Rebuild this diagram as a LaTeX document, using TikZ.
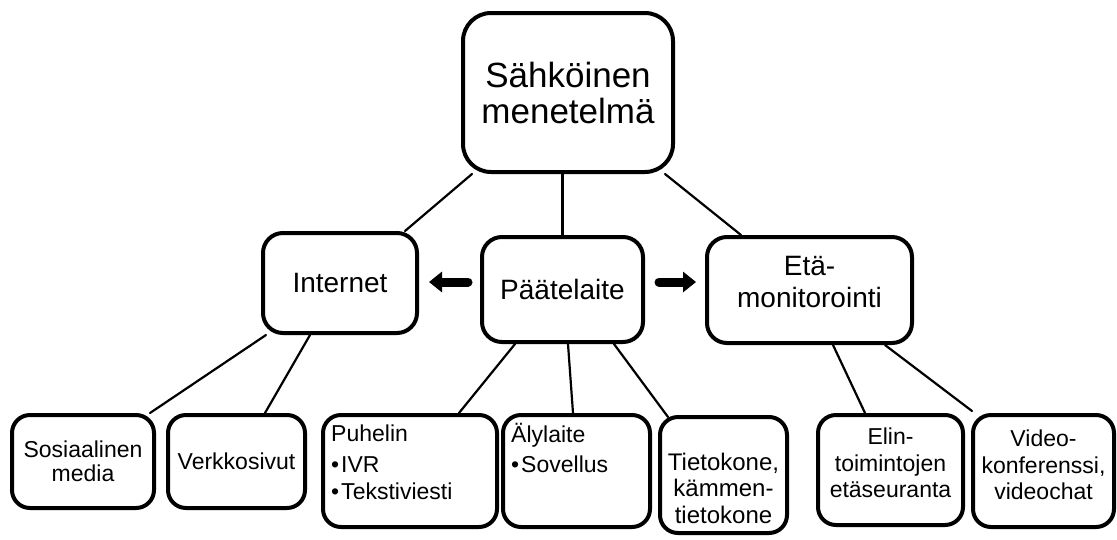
\documentclass[tikz,border=0pt]{standalone}
\usepackage{fontspec}
\setmainfont{Liberation Sans}
\usetikzlibrary{arrows.meta}
\tikzset{
  box/.style={draw=black, line width=4pt, fill=white, rounded corners=18pt, inner sep=0pt, align=center},
  topbox/.style={box, rounded corners=28pt, font=\fontsize{35}{36}\selectfont},
  midbox/.style={box, rounded corners=20pt, font=\fontsize{28}{32}\selectfont},
  lowbox/.style={box, font=\fontsize{23}{24.5}\selectfont},
  midtxt/.style={inner sep=0pt, align=center, font=\fontsize{28}{32}\selectfont},
  lowtxt/.style={inner sep=0pt, align=center, font=\fontsize{23}{26.5}\selectfont},
  listtxt/.style={inner sep=0pt, align=left, font=\fontsize{23}{27}\selectfont},
  conn/.style={line width=2.2pt, line cap=round},
  bigarrow/.style={line width=9pt, line cap=round, -{Triangle[length=13pt,width=20pt]}}
}
\begin{document}
\begin{tikzpicture}[x=1pt, y=-1pt]
\useasboundingbox (0,0) rectangle (1117,539);
% boxes
\node[topbox, minimum width=210pt, minimum height=159pt] (top) at (568,92.5) {Sähköinen\\menetelmä};
\node[midbox, minimum width=154pt, minimum height=100pt] (int) at (340,283) {Internet};
\node[midbox, minimum width=161pt, minimum height=105pt] (pt) at (562.5,289.5) {Päätelaite};
\node[midbox, minimum width=205pt, minimum height=106pt] (eta) at (809.5,290) {};
\node[midtxt] (etat) at ([yshift=8pt]eta.center) {Etä-\\monitorointi};
\node[lowbox, minimum width=142pt, minimum height=93pt] (sos) at (83,461.5) {Sosiaalinen\\media};
\node[lowbox, minimum width=137pt, minimum height=93pt] (verk) at (236.5,461.5) {Verkkosivut};
\node[lowbox, minimum width=174pt, minimum height=112pt] (puh) at (410,471) {};
\node[listtxt, anchor=north west] (puht) at ([xshift=10pt,yshift=-12pt]puh.north west) {Puhelin\\[4pt]•\hspace{2pt}IVR\\•\hspace{2pt}Tekstiviesti};
\node[lowbox, minimum width=147pt, minimum height=112pt] (aly) at (576.5,471) {};
\node[listtxt, anchor=north west] (alyt) at ([xshift=10pt,yshift=-10pt]aly.north west) {Älylaite\\[3pt]•\hspace{2pt}Sovellus};
\node[lowbox, minimum width=127pt, minimum height=116pt] (tie) at (723.5,475) {};
\node[lowtxt, font=\fontsize{24}{26.5}\selectfont] (tiet) at ([yshift=-13pt]tie.center) {Tietokone,\\kämmen-\\tietokone};
\node[lowbox, minimum width=145pt, minimum height=110pt] (elin) at (890.5,470) {};
\node[lowtxt] (elint) at ([yshift=7pt]elin.center) {Elin-\\toimintojen\\etäseuranta};
\node[lowbox, minimum width=141pt, minimum height=112pt] (vid) at (1043.5,471) {};
\node[lowtxt] (vidt) at ([yshift=6pt]vid.center) {Video-\\konferenssi,\\videochat};
% connectors
\draw[conn] ([xshift=11pt]top.south west) -- ([xshift=-14pt]int.north east);
\draw[conn] (pt.north |- top.south) -- (pt.north);
\draw[conn] ([xshift=-10pt]top.south east) -- ([xshift=36pt]eta.north west);
\draw[conn] ([xshift=5pt]int.south west) -- ([xshift=-6pt]sos.north east);
\draw[conn] ([xshift=-30pt]int.south) -- ([xshift=-42pt]verk.north east);
\draw[conn] ([xshift=35pt]pt.south west) -- ([xshift=-40pt]puh.north east);
\draw[conn] ([xshift=5.5pt]pt.south) -- ([xshift=-3.5pt]aly.north);
\draw[conn] ([xshift=-31pt]pt.south east) -- ([xshift=10pt,yshift=-2pt]tie.north west);
\draw[conn] ([xshift=128pt]eta.south west) -- ([xshift=49pt]elin.north west);
\draw[conn] ([xshift=-29pt]eta.south east) -- ([xshift=1pt,yshift=2pt]vid.north west);
% arrows
\draw[bigarrow, shorten <=12pt, shorten >=10pt] ([yshift=7.5pt]pt.west) -- ([yshift=1pt]int.east);
\draw[bigarrow, shorten <=14pt, shorten >=9pt] ([yshift=7.5pt]pt.east) -- ([yshift=8pt]eta.west);
\end{tikzpicture}
\end{document}
